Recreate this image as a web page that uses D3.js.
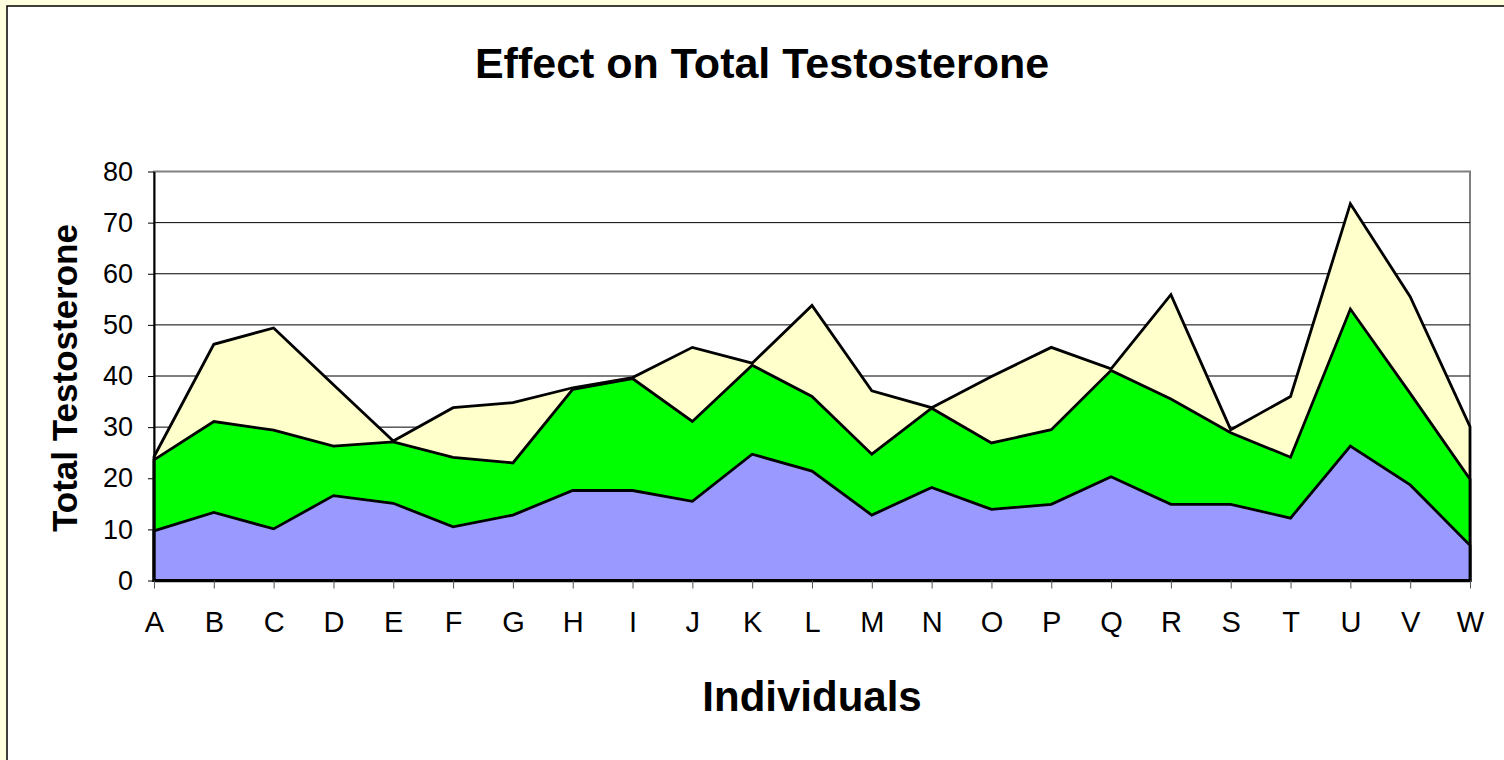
<!DOCTYPE html>
<html>
<head>
<meta charset="utf-8">
<script src="https://cdn.jsdelivr.net/npm/d3@7"></script>
<style>
  body { margin: 0; background: #ffffff; }
  svg { display: block; font-family: "Liberation Sans", Arial, sans-serif; }
</style>
</head>
<body>
<div id="chart"></div>
<script>
// individuals on the x axis
const individuals = ['A', 'B', 'C', 'D', 'E', 'F', 'G', 'H', 'I', 'J', 'K', 'L',
  'M', 'N', 'O', 'P', 'Q', 'R', 'S', 'T', 'U', 'V', 'W'];

// back series (light yellow)
const backValues = [24.2, 46.2, 49.4, 38.3, 27.3, 33.8, 34.8, 37.7, 39.7, 45.6, 42.5, 53.8,
  37.1, 33.8, 39.9, 45.6, 41.4, 55.9, 29.5, 36.0, 73.7, 55.5, 30.1];
// middle series (green)
const midValues = [23.6, 31.1, 29.4, 26.3, 27.1, 24.1, 23.0, 37.4, 39.5, 31.1, 42.1, 36.0,
  24.7, 33.7, 26.9, 29.5, 41.1, 35.5, 28.9, 24.1, 53.1, 36.6, 19.8];
// front series (blue)
const frontValues = [9.7, 13.3, 10.1, 16.6, 15.1, 10.5, 12.8, 17.6, 17.6, 15.5, 24.7, 21.4,
  12.8, 18.2, 13.9, 14.9, 20.3, 14.9, 14.9, 12.2, 26.3, 18.7, 6.9];

const yTicks = [0, 10, 20, 30, 40, 50, 60, 70, 80];

const width = 1504, height = 760;
const plot = {left: 154, right: 1470, top: 171.5, bottom: 580.5};

const svg = d3.select('#chart').append('svg')
  .attr('width', width)
  .attr('height', height);

// page background: pale yellow strip, white chart area with black edge
svg.append('rect').attr('width', width).attr('height', height).attr('fill', '#ffffe0');
svg.append('rect')
  .attr('x', 7).attr('y', 6)
  .attr('width', width + 10).attr('height', height + 10)
  .attr('fill', '#ffffff')
  .attr('stroke', '#000').attr('stroke-width', 1.5);

const x = d3.scalePoint()
  .domain(individuals)
  .range([plot.left, plot.right]);

const y = d3.scaleLinear()
  .domain([0, 80])
  .range([plot.bottom, plot.top]);

// plot frame (grey top/right edges)
svg.append('rect')
  .attr('x', plot.left).attr('y', plot.top)
  .attr('width', plot.right - plot.left).attr('height', plot.bottom - plot.top)
  .attr('fill', '#ffffff')
  .attr('stroke', '#808080').attr('stroke-width', 2);

// gridlines
svg.append('g').attr('class', 'grid')
  .selectAll('line')
  .data(yTicks.filter(d => d > 0 && d < 80))
  .enter().append('line')
  .attr('x1', plot.left).attr('x2', plot.right)
  .attr('y1', d => y(d)).attr('y2', d => y(d))
  .attr('stroke', '#000').attr('stroke-width', 1);

/* ------- areas ------- */
const series = [
  {values: backValues, fill: '#ffffcc'},
  {values: midValues, fill: '#00ff00'},
  {values: frontValues, fill: '#9999ff'}
];

const area = d3.area()
  .x((d, i) => x(individuals[i]))
  .y0(y(0))
  .y1(d => y(d));

svg.append('g').attr('class', 'areas')
  .selectAll('path')
  .data(series)
  .enter().append('path')
  .attr('d', d => area(d.values))
  .attr('fill', d => d.fill)
  .attr('stroke', '#000')
  .attr('stroke-width', 2.8)
  .attr('stroke-linejoin', 'miter');

/* ------- axes ------- */
const yAxis = svg.append('g')
  .attr('transform', `translate(${plot.left},0)`)
  .call(d3.axisLeft(y).tickValues(yTicks).tickSize(6).tickPadding(15).tickSizeOuter(0));
yAxis.select('.domain').attr('stroke', '#000').attr('stroke-width', 2);
yAxis.selectAll('.tick line').attr('stroke', '#000');
yAxis.selectAll('text').attr('font-size', 27).attr('fill', '#000')
  .attr('font-family', '"Liberation Sans", Arial, sans-serif');

const xAxis = svg.append('g')
  .attr('transform', `translate(0,${plot.bottom})`)
  .call(d3.axisBottom(x).tickSize(8).tickPadding(23).tickSizeOuter(0));
xAxis.select('.domain').attr('stroke', '#000').attr('stroke-width', 2.5);
xAxis.selectAll('.tick line').attr('stroke', '#555');
xAxis.selectAll('text').attr('font-size', 29).attr('fill', '#000')
  .attr('font-family', '"Liberation Sans", Arial, sans-serif');

/* ------- titles ------- */
svg.append('text')
  .attr('x', 762).attr('y', 78)
  .attr('text-anchor', 'middle')
  .attr('font-size', 43).attr('font-weight', 'bold')
  .text('Effect on Total Testosterone');

svg.append('text')
  .attr('x', 812).attr('y', 711)
  .attr('text-anchor', 'middle')
  .attr('font-size', 42).attr('font-weight', 'bold')
  .text('Individuals');

svg.append('text')
  .attr('transform', 'translate(77,378) rotate(-90)')
  .attr('text-anchor', 'middle')
  .attr('font-size', 35).attr('font-weight', 'bold')
  .text('Total Testosterone');
</script>
</body>
</html>
